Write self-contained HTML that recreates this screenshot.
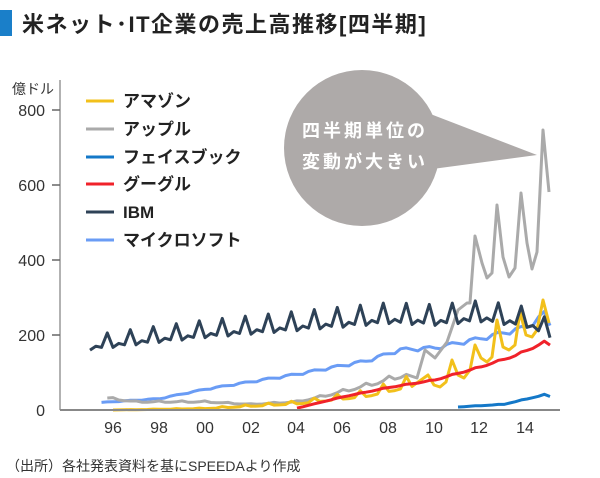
<!DOCTYPE html>
<html><head><meta charset="utf-8"><style>
body{margin:0;background:#fff;width:600px;height:478px;overflow:hidden;font-family:"Liberation Sans","Noto Sans CJK JP",sans-serif}
</style></head><body>
<svg id="s" width="600" height="478" xmlns="http://www.w3.org/2000/svg" style="position:absolute;left:0;top:0">
<rect x="0" y="10" width="12" height="26" fill="#1a7fc9"/>
<text x="22" y="32" font-size="22" font-weight="bold" fill="#222" letter-spacing="1.5" font-family="Liberation Sans,Noto Sans CJK JP,sans-serif">米ネット･IT企業の売上高推移[四半期]</text>
<text x="12" y="94" font-size="14" fill="#333" font-family="Liberation Sans,Noto Sans CJK JP,sans-serif">億ドル</text>
<line x1="60" y1="80" x2="60" y2="410" stroke="#666" stroke-width="1"/>
<g stroke="#666" stroke-width="1.5">
<line x1="52" y1="110" x2="60" y2="110"/><line x1="52" y1="185" x2="60" y2="185"/><line x1="52" y1="260" x2="60" y2="260"/><line x1="52" y1="335" x2="60" y2="335"/>
</g>
<g font-size="16" fill="#333" text-anchor="end" font-family="Liberation Sans,sans-serif">
<text x="45" y="116">800</text><text x="45" y="191">600</text><text x="45" y="266">400</text><text x="45" y="341">200</text><text x="45" y="416">0</text>
</g>
<g font-size="16" fill="#333" text-anchor="middle" font-family="Liberation Sans,sans-serif">
<text x="113" y="433">96</text><text x="159" y="433">98</text><text x="205" y="433">00</text><text x="251" y="433">02</text><text x="296" y="433">04</text><text x="342" y="433">06</text><text x="388" y="433">08</text><text x="434" y="433">10</text><text x="479" y="433">12</text><text x="525" y="433">14</text>
</g>
<circle cx="362" cy="148" r="78" fill="#aeaaa9"/>
<polygon points="420,110 537,155 425,170" fill="#aeaaa9"/>
<text x="365" y="137" font-size="18" font-weight="bold" fill="#fff" text-anchor="middle" letter-spacing="3" font-family="Liberation Sans,Noto Sans CJK JP,sans-serif">四半期単位の</text>
<text x="365" y="168" font-size="18" font-weight="bold" fill="#fff" text-anchor="middle" letter-spacing="3" font-family="Liberation Sans,Noto Sans CJK JP,sans-serif">変動が大きい</text>
<g id="lines" fill="none" stroke-width="3" stroke-linejoin="round"></g>
<line x1="60" y1="410" x2="560" y2="410" stroke="#888" stroke-width="2"/>
<g font-size="17" font-weight="bold" fill="#222" font-family="Liberation Sans,Noto Sans CJK JP,sans-serif">
<line x1="86" y1="101" x2="114" y2="101" stroke="#f2c01b" stroke-width="3"/><text x="123" y="107">アマゾン</text>
<line x1="86" y1="129" x2="114" y2="129" stroke="#aaaaaa" stroke-width="3"/><text x="123" y="135">アップル</text>
<line x1="86" y1="157" x2="114" y2="157" stroke="#1478c8" stroke-width="3"/><text x="123" y="163">フェイスブック</text>
<line x1="86" y1="184" x2="114" y2="184" stroke="#f0222a" stroke-width="3"/><text x="123" y="190">グーグル</text>
<line x1="86" y1="212" x2="114" y2="212" stroke="#2e4257" stroke-width="3"/><text x="123" y="218">IBM</text>
<line x1="86" y1="240" x2="114" y2="240" stroke="#6a9cf5" stroke-width="3"/><text x="123" y="246">マイクロソフト</text>
</g>
<text x="6" y="471" font-size="14" fill="#333" font-family="Liberation Sans,Noto Sans CJK JP,sans-serif">（出所）各社発表資料を基にSPEEDAより作成</text>
</svg>
<script>
function X(q){return 90+5.75*q}
function Y(v){return 410-v*0.375}
function interp(keys,q){for(var i=0;i<keys.length-1;i++){if(q>=keys[i][0]&&q<=keys[i+1][0]){var t=(q-keys[i][0])/(keys[i+1][0]-keys[i][0]);return keys[i][1]+t*(keys[i+1][1]-keys[i][1]);}}return keys[keys.length-1][1];}
function gen(q0,q1,keys,season){var p=[];for(var q=q0;q<=q1;q++){var v=interp(keys,q)*(1+season[(q%4+4)%4]);p.push([X(q),Y(v)]);}return p;}
function add(p,c){var pl=document.createElementNS("http://www.w3.org/2000/svg","polyline");pl.setAttribute("points",p.map(function(a){return a[0].toFixed(1)+","+a[1].toFixed(1)}).join(" "));pl.setAttribute("stroke",c);document.getElementById("lines").appendChild(pl);}
// Microsoft
add(gen(2,80,[[2,20],[12,30],[20,55],[36,95],[48,130],[54,160],[60,165],[68,190],[76,220],[79,255],[80,225]],[0,-0.03,0.02,0.03]),"#6a9cf5");
// Apple
var ap=gen(3,55,[[3,32],[8,22],[20,22],[28,15],[36,22],[40,35],[48,65],[55,95]],[0.1,-0.05,-0.05,0.0]);
[[417,378],[425,350],[435,358],[447,342],[458,310],[467,303],[470,303],[475,236],[482,263],[487,278],[492,273],[497,205],[503,257],[509,277],[515,268],[521,193],[527,243],[532,269],[537,252],[543,130],[549,192]].forEach(function(a){ap.push(a)});
add(ap,"#aaaaaa");
// Amazon
var am=gen(4,56,[[4,0],[20,4],[36,18],[48,40],[56,70]],[-0.1,-0.12,-0.1,0.35]);
[[428,375],[434,385],[440,387],[446,382],[452,360],[458,375],[464,378],[470,370],[475,345],[481,358],[487,362],[492,357],[497,320],[503,347],[509,350],[515,345],[520,312],[526,335],[532,337],[537,330],[543,300],[549,323]].forEach(function(a){am.push(a)});
add(am,"#f2c01b");
// Google
add(gen(36,80,[[36,5],[44,35],[52,60],[60,80],[68,115],[74,145],[79,180],[80,173]],[0,-0.01,0,0.02]),"#f0222a");
// Facebook
add(gen(64,80,[[64,8],[72,15],[79,40],[80,36]],[0,0,0,0.05]),"#1478c8");
// IBM
add(gen(0,80,[[0,170],[8,185],[20,205],[36,225],[52,245],[60,240],[68,250],[76,235],[80,205]],[-0.06,-0.01,-0.04,0.17]),"#2e4257");
</script>
</body></html>
